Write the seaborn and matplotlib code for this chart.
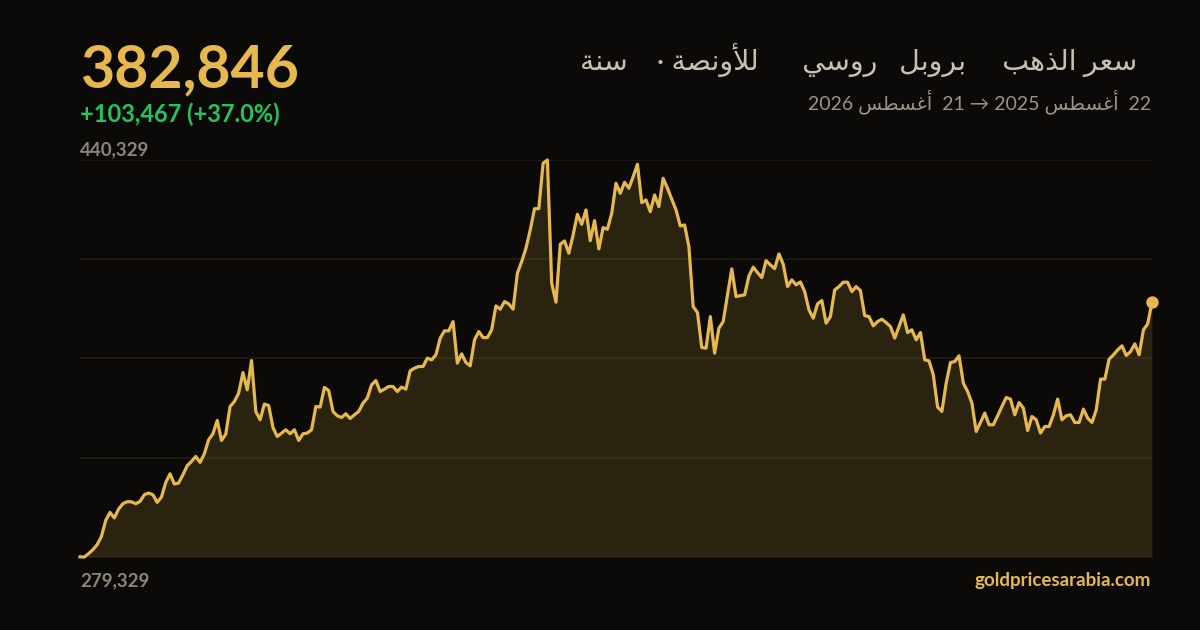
import pandas as pd
import seaborn as sns
import matplotlib.pyplot as plt

# gold price in russian rubles per ounce, one value per trading day (22 Aug 2025 -> 21 Aug 2026)
prices = [
    279379, 279329, 280680, 282301, 284327, 287690, 294173, 297415, 295146, 298793,
    300940, 301751, 301700, 300940, 301872, 304587, 305276, 304587, 301467, 303655,
    309571, 313096, 308923, 309328, 312691, 316338, 318080, 320106, 317675, 321200,
    326873, 329304, 334693, 326589, 329183, 340366, 342392, 345796, 354143, 347133,
    359005, 338340, 334977, 341339, 340772, 331857, 328210, 329588, 330925, 329304,
    330925, 326589, 329304, 329588, 330925, 340366, 340123, 348065, 346849, 338340,
    336598, 335909, 337408, 335504, 337003, 338340, 341744, 343770, 349159, 350901,
    346444, 347417, 348470, 348470, 346444, 348227, 347417, 354832, 355926, 356574,
    356574, 359978, 359289, 361315, 368082, 371040, 371040, 374808, 357952, 361720,
    358195, 356858, 367393, 370756, 368325, 368325, 371445, 381170, 379833, 382912,
    381980, 379833, 394420, 399120, 404550, 411965, 420596, 420596, 438992, 440329,
    390368, 382669, 406171, 407508, 402524, 409939, 418327, 414275, 420069, 407629,
    415733, 404266, 412897, 412249, 418732, 430888, 426836, 431293, 428862, 433562,
    438587, 423027, 424121, 419380, 426147, 421406, 432914, 428862, 424526, 420069,
    413586, 413991, 405198, 380886, 378455, 364273, 364030, 376834, 362004, 372134,
    374808, 385627, 396162, 384938, 385343, 385627, 393326, 396851, 394663, 392637,
    399525, 397783, 396284, 402240, 398067, 388990, 391705, 389679, 390895, 386964,
    379549, 376186, 381980, 383317, 374160, 376834, 387653, 388990, 390773, 390773,
    386964, 388990, 387369, 377239, 376834, 373066, 374808, 375781, 374403, 372782,
    368082, 372782, 377523, 370351, 371445, 367393, 370351, 359289, 358884, 353211,
    340123, 338340, 349848, 358195, 358600, 360910, 349848, 346444, 341744, 330236,
    333883, 337692, 332951, 332951, 336598, 340366, 344013, 343365, 337003, 341987,
    339718, 330641, 336314, 334977, 329588, 332262, 332262, 337003, 343365, 334977,
    336598, 337003, 333883, 333883, 339313, 335666, 333883, 339029, 351469, 351469,
    359573, 361315, 363341, 364962, 361031, 362652, 365772, 361315, 371445, 373876,
    382846,
]
y_low = 279329
y_high = 440329
last_price = 382846
change = 103467
change_pct = 37.0

title_ar = 'سعر الذهب     بروبل   روسي      للأونصة ·    سنة'
range_ar = '22  أغسطس 2025 → 21  أغسطس 2026'
site = 'goldpricesarabia.com'

# matplotlib does not shape arabic, so map letters to presentation forms by hand
# (isolated, final, initial, medial)
AR_FORMS = {
    'ا': (0xFE8D, 0xFE8E, None, None),
    'أ': (0xFE83, 0xFE84, None, None),
    'ب': (0xFE8F, 0xFE90, 0xFE91, 0xFE92),
    'ة': (0xFE93, 0xFE94, None, None),
    'ذ': (0xFEAB, 0xFEAC, None, None),
    'ر': (0xFEAD, 0xFEAE, None, None),
    'س': (0xFEB1, 0xFEB2, 0xFEB3, 0xFEB4),
    'ص': (0xFEB9, 0xFEBA, 0xFEBB, 0xFEBC),
    'ط': (0xFEC1, 0xFEC2, 0xFEC3, 0xFEC4),
    'ع': (0xFEC9, 0xFECA, 0xFECB, 0xFECC),
    'غ': (0xFECD, 0xFECE, 0xFECF, 0xFED0),
    'ل': (0xFEDD, 0xFEDE, 0xFEDF, 0xFEE0),
    'ن': (0xFEE5, 0xFEE6, 0xFEE7, 0xFEE8),
    'ه': (0xFEE9, 0xFEEA, 0xFEEB, 0xFEEC),
    'و': (0xFEED, 0xFEEE, None, None),
    'ي': (0xFEF1, 0xFEF2, 0xFEF3, 0xFEF4),
}
LAM_ALEF = {'ا': (0xFEFB, 0xFEFC), 'أ': (0xFEF7, 0xFEF8)}


def shape_word(word):
    out = []
    prev_joins = False
    i = 0
    while i < len(word):
        ch = word[i]
        if ch not in AR_FORMS:
            out.append(ch)
            prev_joins = False
            i += 1
            continue
        nxt = word[i + 1] if i + 1 < len(word) else None
        if ch == 'ل' and nxt in LAM_ALEF:
            iso, fin = LAM_ALEF[nxt]
            out.append(chr(fin if prev_joins else iso))
            prev_joins = False
            i += 2
            continue
        forms = AR_FORMS[ch]
        next_joins = forms[2] is not None and nxt in AR_FORMS
        if prev_joins and next_joins:
            cp = forms[3]
        elif prev_joins:
            cp = forms[1]
        elif next_joins:
            cp = forms[2]
        else:
            cp = forms[0]
        out.append(chr(cp))
        prev_joins = next_joins
        i += 1
    return ''.join(out)


def ar(text):
    parts = [shape_word(w)[::-1] if any(c in AR_FORMS for c in w) else w
             for w in text.split(' ')]
    return ' '.join(parts[::-1])


bg = '#0b0a08'
gold = '#e6b84e'
fill = '#29230f'
grey = '#8c8677'
fonts = ['Lato', 'DejaVu Sans']

plt.rcParams['font.family'] = fonts

df = pd.DataFrame({'day': range(len(prices)), 'price': prices})

fig = plt.figure(figsize=(12, 6.3), dpi=100, facecolor=bg)
ax = fig.add_axes([80 / 1200, 73 / 630, 1072 / 1200, 397 / 630])
ax.set_facecolor(bg)

ax.fill_between(df['day'], df['price'], y_low, color=fill, lw=0, zorder=1)
sns.lineplot(data=df, x='day', y='price', ax=ax, color=gold, linewidth=2.3,
             zorder=4, clip_on=False)
ax.scatter([df['day'].iloc[-1]], [df['price'].iloc[-1]], s=80, color=gold,
           zorder=5, clip_on=False, linewidths=0)

ax.set_xlim(0, len(prices) - 1)
ax.set_ylim(y_low, y_high)
step = (y_high - y_low) / 4
ax.set_yticks([y_low + step * k for k in range(5)])
ax.grid(axis='y', color='#d8bd6a', alpha=0.1, linewidth=1.2)
ax.grid(axis='x', visible=False)
ax.set_axisbelow(False)
ax.tick_params(left=False, bottom=False, labelleft=False, labelbottom=False)
for s in ax.spines.values():
    s.set_visible(False)
ax.set_xlabel('')
ax.set_ylabel('')

# header
fig.text(80 / 1200, 1 - 87 / 630, f'{last_price:,}', color=gold, fontsize=42.5,
         fontweight='bold', ha='left', va='baseline')
fig.text(80 / 1200, 1 - 122 / 630, f'+{change:,} (+{change_pct:.1f}%)',
         color='#22c55e', fontsize=17, fontweight='bold', ha='left', va='baseline')
fig.text(1137 / 1200, 1 - 70 / 630, ar(title_ar), color='#c9c1ae', fontsize=20.5,
         ha='right', va='baseline')
fig.text(1151 / 1200, 1 - 109 / 630, ar(range_ar), color='#9c9586', fontsize=14,
         ha='right', va='baseline')

# axis extremes and source
fig.text(80 / 1200, 1 - 155 / 630, f'{y_high:,}', color=grey, fontsize=13.5,
         fontweight='bold', ha='left', va='baseline')
fig.text(80 / 1200, 1 - 586 / 630, f'{y_low:,}', color=grey, fontsize=13.5,
         fontweight='bold', ha='left', va='baseline')
fig.text(1151 / 1200, 1 - 586 / 630, site, color=gold, fontsize=13.5,
         fontweight='bold', ha='right', va='baseline')

fig.savefig('out.png', dpi=100, facecolor=bg)
